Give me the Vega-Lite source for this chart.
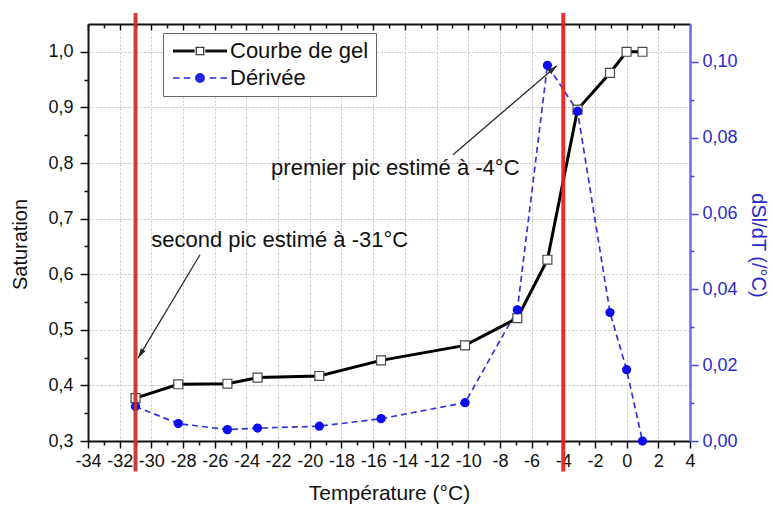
{
  "$schema": "https://vega.github.io/schema/vega-lite/v6.json",
  "width": 602,
  "height": 417,
  "autosize": "none",
  "padding": {"left": 88, "top": 24, "right": 83, "bottom": 71},
  "background": "white",
  "config": {
    "view": {"stroke": null},
    "font": "Liberation Sans",
    "axis": {
      "labelFont": "Liberation Sans",
      "titleFont": "Liberation Sans",
      "labelFontSize": 18,
      "titleFontSize": 20,
      "titleFontWeight": "normal",
      "labelColor": "#111111",
      "titleColor": "#111111",
      "domainColor": "#111111",
      "tickColor": "#111111",
      "domainWidth": 2,
      "tickWidth": 1.5,
      "labelFlush": false,
      "labelOverlap": false,
      "labelBound": false,
      "gridColor": "#c4c4c4",
      "gridDash": [2, 2],
      "gridWidth": 1
    },
    "legend": {
      "labelFont": "Liberation Sans",
      "labelFontSize": 22,
      "labelColor": "#111111"
    }
  },
  "datasets": {
    "gel": [
      {"serie": "Courbe de gel", "T": -31.0, "S": 0.377},
      {"serie": "Courbe de gel", "T": -28.3, "S": 0.402},
      {"serie": "Courbe de gel", "T": -25.2, "S": 0.403},
      {"serie": "Courbe de gel", "T": -23.3, "S": 0.414},
      {"serie": "Courbe de gel", "T": -19.4, "S": 0.417},
      {"serie": "Courbe de gel", "T": -15.5, "S": 0.445},
      {"serie": "Courbe de gel", "T": -10.2, "S": 0.472},
      {"serie": "Courbe de gel", "T": -6.9, "S": 0.521},
      {"serie": "Courbe de gel", "T": -5.0, "S": 0.626},
      {"serie": "Courbe de gel", "T": -3.1, "S": 0.896},
      {"serie": "Courbe de gel", "T": -1.05, "S": 0.962},
      {"serie": "Courbe de gel", "T": 0.0, "S": 1.0},
      {"serie": "Courbe de gel", "T": 1.0, "S": 1.0}
    ],
    "derivee": [
      {"serie": "Dérivée", "T": -31.0, "D": 0.0091},
      {"serie": "Dérivée", "T": -28.3, "D": 0.0046},
      {"serie": "Dérivée", "T": -25.2, "D": 0.0030},
      {"serie": "Dérivée", "T": -23.3, "D": 0.0034},
      {"serie": "Dérivée", "T": -19.4, "D": 0.0039},
      {"serie": "Dérivée", "T": -15.5, "D": 0.0059},
      {"serie": "Dérivée", "T": -10.2, "D": 0.0101},
      {"serie": "Dérivée", "T": -6.9, "D": 0.0346},
      {"serie": "Dérivée", "T": -5.0, "D": 0.0991},
      {"serie": "Dérivée", "T": -3.1, "D": 0.0870},
      {"serie": "Dérivée", "T": -1.05, "D": 0.0339},
      {"serie": "Dérivée", "T": 0.0, "D": 0.0188},
      {"serie": "Dérivée", "T": 1.0, "D": 0.0}
    ],
    "pics": [{"T": -31.0}, {"T": -4.0}],
    "notes": [
      {"T": -14.6, "S": 0.791, "texte": "premier pic estimé à -4°C"},
      {"T": -21.9, "S": 0.662, "texte": "second pic estimé à -31°C"}
    ],
    "fleches": [
      {"id": "premier", "T1": -10.96, "S1": 0.815, "T2": -4.4, "S2": 0.975},
      {"id": "second", "T1": -26.93, "S1": 0.635, "T2": -30.84, "S2": 0.449}
    ]
  },
  "resolve": {
    "scale": {"x": "independent", "y": "independent"},
    "axis": {"x": "independent", "y": "independent"}
  },
  "layer": [
    {
      "data": {"name": "gel"},
      "mark": {"type": "line", "strokeWidth": 3},
      "encoding": {
        "x": {
          "field": "T", "type": "quantitative",
          "scale": {"domain": [-34, 4], "nice": false, "zero": false},
          "axis": {
            "orient": "bottom",
            "title": "Température (°C)",
            "titleFontSize": 21,
            "values": [-34, -32, -30, -28, -26, -24, -22, -20, -18, -16, -14, -12, -10, -8, -6, -4, -2, 0, 2, 4],
            "labelExpr": "(datum.value < 0 ? '-' : '') + abs(datum.value)",
            "tickSize": 7,
            "labelPadding": 4,
            "grid": true,
            "titleX": 301,
            "titleY": 52,
            "titleBaseline": "middle",
            "titleAlign": "center"
          }
        },
        "y": {
          "field": "S", "type": "quantitative",
          "scale": {"domain": [0.3, 1.05], "nice": false, "zero": false},
          "axis": {
            "orient": "left",
            "title": "Saturation",
            "values": [0.3, 0.4, 0.5, 0.6, 0.7, 0.8, 0.9, 1.0],
            "labelExpr": "replace(format(datum.value, '.1f'), '.', ',')",
            "tickSize": 8,
            "labelPadding": 7,
            "grid": true,
            "titleX": -67.5,
            "titleY": 220,
            "titleAngle": 270,
            "titleBaseline": "middle",
            "titleAlign": "center"
          }
        },
        "color": {
          "field": "serie", "type": "nominal",
          "scale": {"domain": ["Courbe de gel", "Dérivée"], "range": ["#000000", "#3434d6"]},
          "legend": {
            "title": null,
            "orient": "none",
            "legendX": 75,
            "legendY": 9,
            "padding": 7,
            "rowPadding": 5,
            "strokeColor": "#666666",
            "fillColor": "#ffffff",
            "symbolSize": 484,
            "labelOffset": 38,
            "encode": {
              "symbols": {
                "update": {
                  "shape": {"signal": "datum.value === 'Dérivée' ? 'M-0.727,-0.073H-0.136V0.073H-0.727Z M0.255,-0.073H0.845V0.073H0.255Z M2.609,-0.073H3.2V0.073H2.609Z M3.591,-0.073H4.182V0.073H3.591Z M2.173,0A0.445,0.445 0 1,1 1.282,0A0.445,0.445 0 1,1 2.173,0Z' : 'M-0.727,-0.136H1.236V0.136H-0.727Z M2.215,-0.136H4.182V0.136H2.215Z M1.336,-0.391H2.118V0.391H1.336Z M1.436,-0.291V0.291H2.018V-0.291Z'"},
                  "fill": {"signal": "datum.value === 'Dérivée' ? '#2222e4' : '#111111'"},
                  "fillOpacity": {"value": 1},
                  "stroke": {"value": "transparent"},
                  "strokeWidth": {"value": 0},
                  "size": {"value": 484}
                }
              }
            }
          }
        }
      }
    },
    {
      "data": {"name": "derivee"},
      "mark": {"type": "line", "strokeWidth": 1.7, "strokeDash": [6, 4]},
      "encoding": {
        "x": {
          "field": "T", "type": "quantitative",
          "scale": {"domain": [-34, 4], "nice": false, "zero": false},
          "axis": {
            "orient": "top",
            "title": null,
            "labels": false,
            "values": [-34, -32, -30, -28, -26, -24, -22, -20, -18, -16, -14, -12, -10, -8, -6, -4, -2, 0, 2, 4],
            "tickSize": -6,
            "grid": false
          }
        },
        "y": {
          "field": "D", "type": "quantitative",
          "scale": {"domain": [0, 0.11], "nice": false, "zero": false},
          "axis": {
            "orient": "right",
            "title": "dSl/dT (/°C)",
            "values": [0, 0.02, 0.04, 0.06, 0.08, 0.1],
            "labelExpr": "replace(format(datum.value, '.2f'), '.', ',')",
            "tickSize": 8,
            "labelPadding": 4,
            "grid": false,
            "domainColor": "#6c6cec",
            "domainWidth": 2.5,
            "tickColor": "#4a4ae0",
            "labelColor": "#2a2ac8",
            "titleColor": "#2a2ac8",
            "titleX": 67,
            "titleY": 221,
            "titleAngle": 90,
            "titleBaseline": "middle",
            "titleAlign": "center"
          }
        },
        "color": {"field": "serie", "type": "nominal"}
      }
    },
    {
      "data": {"name": "gel"},
      "mark": {"type": "point", "shape": "square", "filled": true, "fill": "#ffffff", "stroke": "#4a4a4a", "strokeWidth": 1.2, "size": 80, "opacity": 1},
      "encoding": {
        "x": {
          "field": "T", "type": "quantitative",
          "scale": {"domain": [-34, 4], "nice": false, "zero": false},
          "axis": {
            "orient": "bottom",
            "title": null,
            "labels": false,
            "domain": false,
            "values": [-33, -31, -29, -27, -25, -23, -21, -19, -17, -15, -13, -11, -9, -7, -5, -3, -1, 1, 3],
            "tickSize": 4,
            "grid": false
          }
        },
        "y": {
          "field": "S", "type": "quantitative",
          "scale": {"domain": [0.3, 1.05], "nice": false, "zero": false},
          "axis": {
            "orient": "left",
            "title": null,
            "labels": false,
            "domain": false,
            "values": [0.35, 0.45, 0.55, 0.65, 0.75, 0.85, 0.95],
            "tickSize": 4,
            "grid": false
          }
        }
      }
    },
    {
      "data": {"name": "derivee"},
      "mark": {"type": "point", "shape": "circle", "filled": true, "fill": "#0b0bf2", "size": 85, "opacity": 1},
      "encoding": {
        "x": {
          "field": "T", "type": "quantitative",
          "scale": {"domain": [-34, 4], "nice": false, "zero": false},
          "axis": {
            "orient": "top",
            "title": null,
            "labels": false,
            "domain": false,
            "values": [-33, -31, -29, -27, -25, -23, -21, -19, -17, -15, -13, -11, -9, -7, -5, -3, -1, 1, 3],
            "tickSize": -4,
            "grid": false
          }
        },
        "y": {
          "field": "D", "type": "quantitative",
          "scale": {"domain": [0, 0.11], "nice": false, "zero": false},
          "axis": {
            "orient": "right",
            "title": null,
            "labels": false,
            "domain": false,
            "values": [0.01, 0.03, 0.05, 0.07, 0.09],
            "tickSize": 4,
            "tickColor": "#4a4ae0",
            "grid": false
          }
        }
      }
    },
    {
      "data": {"name": "fleches"},
      "mark": {"type": "rule", "color": "#2a2a2a", "strokeWidth": 1.3},
      "encoding": {
        "x": {"field": "T1", "type": "quantitative", "scale": {"domain": [-34, 4], "nice": false, "zero": false}, "axis": null},
        "y": {"field": "S1", "type": "quantitative", "scale": {"domain": [0.3, 1.05], "nice": false, "zero": false}, "axis": null},
        "x2": {"field": "T2"},
        "y2": {"field": "S2"}
      }
    },
    {
      "data": {"name": "fleches"},
      "mark": {"type": "point", "shape": "M0,0L-0.28,1L0.28,1Z", "filled": true, "fill": "#2a2a2a", "size": 400, "opacity": 1},
      "encoding": {
        "x": {"field": "T2", "type": "quantitative", "scale": {"domain": [-34, 4], "nice": false, "zero": false}, "axis": null},
        "y": {"field": "S2", "type": "quantitative", "scale": {"domain": [0.3, 1.05], "nice": false, "zero": false}, "axis": null},
        "angle": {"condition": {"test": "datum.id === 'premier'", "value": 49.4}, "value": 211}
      }
    },
    {
      "data": {"name": "notes"},
      "mark": {"type": "text", "font": "Liberation Sans", "fontSize": 22, "color": "#111111", "align": "center", "baseline": "middle"},
      "encoding": {
        "x": {"field": "T", "type": "quantitative", "scale": {"domain": [-34, 4], "nice": false, "zero": false}, "axis": null},
        "y": {"field": "S", "type": "quantitative", "scale": {"domain": [0.3, 1.05], "nice": false, "zero": false}, "axis": null},
        "text": {"field": "texte"}
      }
    },
    {
      "data": {"name": "pics"},
      "mark": {"type": "rule", "strokeWidth": 4, "opacity": 0.92},
      "encoding": {
        "x": {"field": "T", "type": "quantitative", "scale": {"domain": [-34, 4], "nice": false, "zero": false}, "axis": null},
        "y": {"datum": 1.07, "type": "quantitative", "scale": {"domain": [0.3, 1.05], "nice": false, "zero": false}, "axis": null},
        "y2": {"datum": 0.245},
        "color": {"condition": {"test": "datum.T < -20", "value": "#c92e2a"}, "value": "#e8201e"}
      }
    }
  ]
}
